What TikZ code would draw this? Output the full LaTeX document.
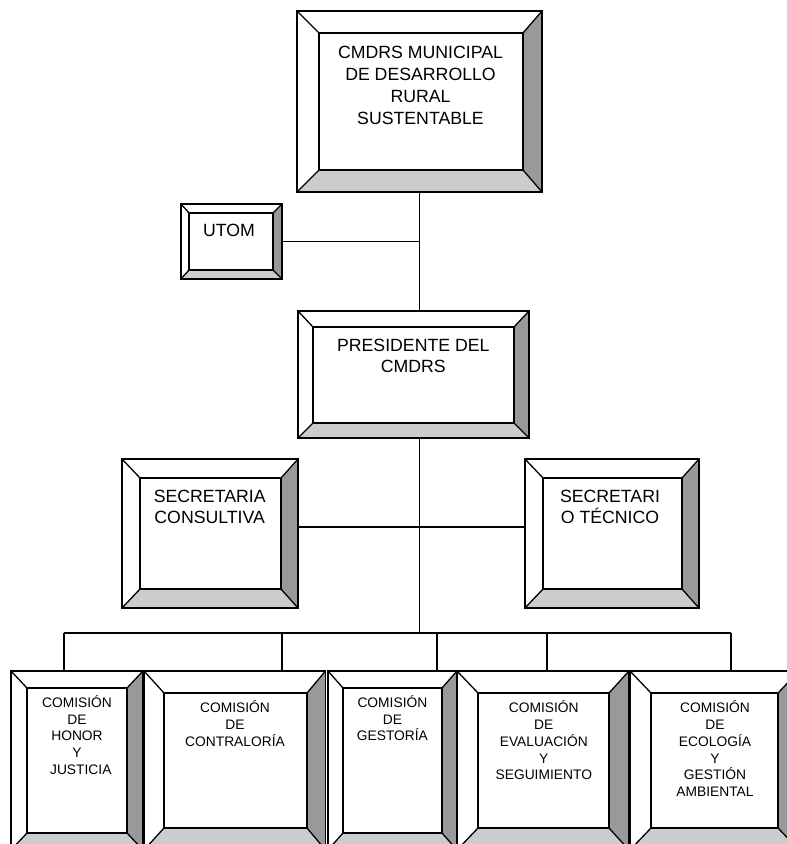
\documentclass[tikz,border=0pt]{standalone}
\usepackage{fontspec}
\setmainfont{Liberation Sans}
\definecolor{darkbevel}{HTML}{999999}
\definecolor{lightbevel}{HTML}{CCCCCC}
\tikzset{
  edge/.style={draw=black, line width=1.3pt},
  outerbox/.style={draw=black, line width=1.3pt, rectangle, inner sep=0pt, outer sep=0pt},
  bigtext/.style={font=\fontsize{17.7}{21.9}\selectfont, align=center, inner sep=0pt, anchor=base},
  midtext/.style={font=\fontsize{17.7}{20.6}\selectfont, align=center, inner sep=0pt, anchor=base},
  smalltext/.style={font=\fontsize{13.8}{16.8}\selectfont, align=center, inner sep=0pt, anchor=base},
}
% #1 name, #2..#5 outer x1,y1,x2,y2, #6..#9 inner x1,y1,x2,y2
\newcommand\bevelbox[9]{%
  \fill[darkbevel] (#4,#3) -- (#4,#5) -- (#8,#9) -- (#8,#7) -- cycle;
  \fill[lightbevel] (#2,#5) -- (#4,#5) -- (#8,#9) -- (#6,#9) -- cycle;
  \node[outerbox, minimum width={(#4-#2)*1pt}, minimum height={(#5-#3)*1pt}] (#1) at ({(#2+#4)/2},{(#3+#5)/2}) {};
  \draw[edge] (#6,#7) rectangle (#8,#9);
  \draw[edge] (#1.north west) -- (#6,#7) (#1.north east) -- (#8,#7) (#1.south east) -- (#8,#9) (#1.south west) -- (#6,#9);
}
\begin{document}
\begin{tikzpicture}[x=1pt,y=-1pt]
\useasboundingbox (0,0) rectangle (787,844);
\clip (0,0) rectangle (787,844);
\fill[white] (0,0) rectangle (787,844);

\bevelbox{top}{297}{11}{542}{192}{319}{33}{523}{170}
\bevelbox{utom}{181}{204}{282}{279}{189}{213}{273}{270}
\bevelbox{pres}{298}{311}{529}{438}{313}{327}{514}{423}
\bevelbox{sc}{122}{459}{298}{608}{140}{478}{281}{589}
\bevelbox{st}{525}{459}{699}{608}{543}{478}{682}{589}
\bevelbox{c1}{11}{671}{143}{850}{27}{688}{127}{833}
\bevelbox{c2}{144}{671}{325.5}{850}{164}{693}{307}{828}
\bevelbox{c3}{328}{671}{457}{850}{343}{688}{442}{833}
\bevelbox{c4}{457}{671}{629}{850}{478}{693}{609}{828}
\bevelbox{c5}{630}{671}{799}{850}{651}{693}{778}{828}

% anchor=base is the baseline of the last line
\node[bigtext] (top-t) at (420.5,124.0) {CMDRS MUNICIPAL\\DE DESARROLLO\\RURAL\\SUSTENTABLE};
\node[bigtext] (utom-t) at (229,236.7) {UTOM};
\node[midtext] (pres-t) at (413.3,372.3) {PRESIDENTE DEL\\CMDRS};
\node[midtext] (sc-t) at (209.7,523.3) {SECRETARIA\\CONSULTIVA};
\node[midtext] (st-t) at (610,523.3) {SECRETARI\\O TÉCNICO};
\node[smalltext] (c1-t) at (77,774.5) {COMISIÓN\\DE\hspace*{10.6pt}\\HONOR\\Y\hspace*{12pt}\\\hspace*{7.6pt}JUSTICIA};
\node[smalltext] (c2-t) at (235,746.3) {COMISIÓN\\DE\hspace*{8.4pt}\\CONTRALORÍA};
\node[smalltext] (c3-t) at (392.4,740.9) {COMISIÓN\\DE\\GESTORÍA};
\node[smalltext] (c4-t) at (543.8,779.9) {COMISIÓN\\DE\\EVALUACIÓN\\Y\\SEGUIMIENTO};
\node[smalltext] (c5-t) at (715,796.7) {COMISIÓN\\DE\\ECOLOGÍA\\Y\\GESTIÓN\\AMBIENTAL};

% connectors
\coordinate (d1) at (64,633);
\coordinate (d2) at (282,633);
\coordinate (d3) at (437,633);
\coordinate (d4) at (547,633);
\coordinate (d5) at (731,633);
\draw[edge] (top.south) -- (top.south |- pres.north);
\draw[edge] (utom.east) -- (utom.east -| top.south);
\draw[edge] ([yshift=6.5pt]sc.east) -- ([yshift=6.5pt]st.west);
\draw[edge] (top.south |- pres.south) -- (top.south |- d1);
\draw[edge] (d1) -- (d5);
\draw[edge] (d1) -- (d1 |- c1.north);
\draw[edge] (d2) -- (d2 |- c2.north);
\draw[edge] (d3) -- (d3 |- c3.north);
\draw[edge] (d4) -- (d4 |- c4.north);
\draw[edge] (d5) -- (d5 |- c5.north);
\end{tikzpicture}
\end{document}
